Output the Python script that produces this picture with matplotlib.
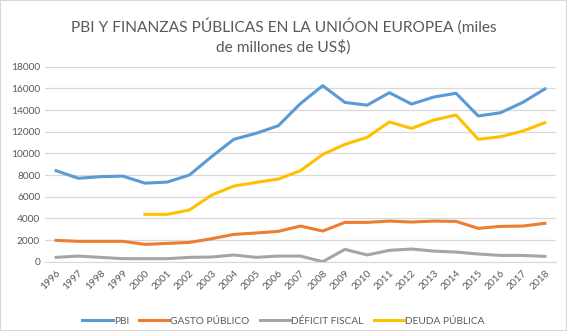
import matplotlib.pyplot as plt
import numpy as np

years = [str(y) for y in range(1996, 2019)]
pbi = [8400, 7700, 7850, 7900, 7250, 7350, 8000, 9700, 11300, 11850, 12550, 14600,
       16250, 14700, 14450, 15600, 14550, 15200, 15550, 13450, 13750, 14700, 15950]
gasto = [1970, 1880, 1880, 1880, 1600, 1690, 1780, 2120, 2520, 2650, 2800, 3290,
         2830, 3630, 3630, 3750, 3660, 3750, 3720, 3080, 3260, 3290, 3540]
deficit = [400, 520, 400, 280, 280, 280, 400, 430, 620, 400, 520, 520,
           0, 1140, 620, 1050, 1170, 980, 890, 710, 580, 580, 490]
deuda = [None, None, None, None, 4370, 4370, 4770, 6150, 6980, 7320, 7630, 8400,
         9900, 10830, 11480, 12900, 12300, 13080, 13540, 11300, 11540, 12060, 12830]

plt.rcParams['font.family'] = ['Lato', 'DejaVu Sans']
grey = '#595959'

fig = plt.figure(figsize=(5.67, 3.31), dpi=100)
fig.patches.append(plt.Rectangle((0, 0), 1, 1, transform=fig.transFigure,
                                 fill=False, edgecolor='#d9d9d9', lw=1.5))
ax = fig.add_axes([45 / 567, 1 - 261.7 / 331, 511 / 567, 195 / 331])

x = np.arange(len(years))
dd = np.array([np.nan if v is None else v for v in deuda], dtype=float)
ax.plot(x, pbi, color='#5B9BD5', lw=2.2, label='PBI')
ax.plot(x, gasto, color='#ED7D31', lw=2.2, label='GASTO PÚBLICO')
ax.plot(x, deficit, color='#A5A5A5', lw=2.2, label='DÉFICIT FISCAL')
ax.plot(x, dd, color='#FFC000', lw=2.2, label='DEUDA PÚBLICA')

ax.set_xlim(-0.5, len(years) - 0.5)
ax.set_ylim(0, 18000)
ax.set_yticks(range(0, 18001, 2000))
ax.set_xticks(x)
ax.set_xticklabels(years, rotation=45, ha='right', rotation_mode='anchor')
ax.tick_params(axis='both', length=0, colors=grey, labelsize=7.3)
ax.tick_params(axis='x', pad=5)
ax.grid(axis='y', color='#d9d9d9', lw=0.9)
ax.set_axisbelow(True)
for s in ['top', 'right', 'left']:
    ax.spines[s].set_visible(False)
ax.spines['bottom'].set_color('#d9d9d9')

fig.text(0.5, 1 - 36 / 331, 'PBI Y FINANZAS PÚBLICAS EN LA UNIÓON EUROPEA (miles\nde millones de US$)',
         ha='center', va='center', fontsize=11.2, color=grey, linespacing=1.4)

fig.legend(loc='center', bbox_to_anchor=(0.5, 1 - 321 / 331), ncol=4, frameon=False,
           fontsize=7.3, labelcolor=grey, handlelength=3.0, handletextpad=0.1,
           columnspacing=1.0)

fig.savefig('out.png', dpi=100)
